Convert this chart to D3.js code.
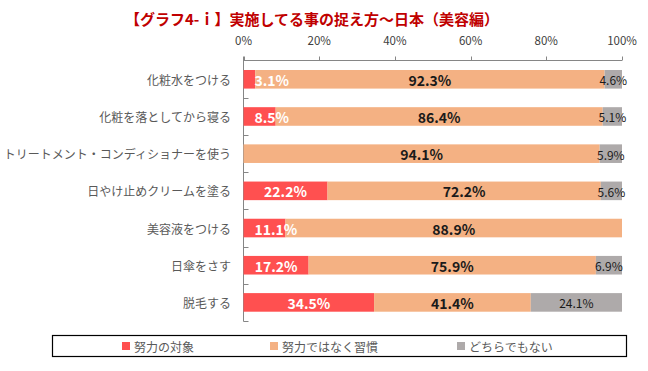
<!DOCTYPE html>
<html><head><meta charset="utf-8">
<script src="https://cdn.jsdelivr.net/npm/d3@7"></script>
<style>body{margin:0;background:#fff;} svg{display:block;}</style>
</head><body>
<svg id="c" width="648" height="371"></svg>
<script>
const title = "【グラフ4-ｉ】実施してる事の捉え方～日本（美容編）";
const categories = ["化粧水をつける","化粧を落としてから寝る","トリートメント・コンディショナーを使う","日やけ止めクリームを塗る","美容液をつける","日傘をさす","脱毛する"];
const seriesNames = ["努力の対象","努力ではなく習慣","どちらでもない"];
const effort = [3.1, 8.5, 0, 22.2, 11.1, 17.2, 34.5];
const habit = [92.3, 86.4, 94.1, 72.2, 88.9, 75.9, 41.4];
const neither = [4.6, 5.1, 5.9, 5.6, 0, 6.9, 24.1];
const tickValues = [0, 20, 40, 60, 80, 100];
const colors = ["#FF5050", "#F4B183", "#AEAAAA"];

const svg = d3.select("#c");
const font = "'Noto Sans CJK JP','Noto Sans',sans-serif";
const x = d3.scaleLinear().domain([0, 100]).range([243.5, 622]);
const y = d3.scaleBand().domain(categories).range([60.7, 321]).paddingInner(0.5).paddingOuter(0.25);

svg.append("text").attr("x", 312).attr("y", 18).attr("text-anchor", "middle")
  .attr("dominant-baseline", "central").attr("font-family", font).attr("font-weight", "bold")
  .attr("font-size", 15).attr("fill", "#C00000").text(title);

// top axis
const axColor = "#868686";
svg.append("line").attr("x1", x(0)).attr("x2", x(100)).attr("y1", 60.5).attr("y2", 60.5).attr("stroke", axColor);
tickValues.forEach(v => {
  svg.append("line").attr("x1", Math.round(x(v)) + 0.5).attr("x2", Math.round(x(v)) + 0.5)
    .attr("y1", 56.5).attr("y2", 60.5).attr("stroke", axColor);
  svg.append("text").attr("x", x(v)).attr("y", 40).attr("text-anchor", "middle")
    .attr("dominant-baseline", "central").attr("font-family", font).attr("font-size", 11.5)
    .attr("fill", "#404040").text(v + "%");
});
// left axis
svg.append("line").attr("x1", 243.5).attr("x2", 243.5).attr("y1", 56.5).attr("y2", 321.5).attr("stroke", axColor);
const step = y.step();
for (let k = 1; k <= categories.length; k++) {
  const yy = Math.round(60.7 + k * step) + 0.5;
  svg.append("line").attr("x1", 243.5).attr("x2", 248.5).attr("y1", yy).attr("y2", yy).attr("stroke", axColor);
}

// category labels
categories.forEach(c => {
  svg.append("text").attr("x", 231).attr("y", y(c) + y.bandwidth() / 2).attr("text-anchor", "end")
    .attr("dominant-baseline", "central").attr("font-family", font).attr("font-size", 12)
    .attr("fill", "#595959").text(c);
});

const series = [effort, habit, neither];
const barLayer = svg.append("g");
const labelLayer = svg.append("g");
categories.forEach((c, i) => {
  let acc = 0;
  series.forEach((s, j) => {
    const v = s[i];
    const x0 = x(acc), x1 = x(acc + v);
    acc += v;
    if (v <= 0) return;
    barLayer.append("rect").attr("x", x0).attr("y", y(c)).attr("width", x1 - x0)
      .attr("height", y.bandwidth()).attr("fill", colors[j]);
    const t = labelLayer.append("text").attr("y", y(c) + y.bandwidth() / 2 + 0.5)
      .attr("dominant-baseline", "central").attr("text-anchor", "middle")
      .attr("font-family", font)
      .attr("font-size", j === 2 ? 12 : 14)
      .attr("font-weight", j === 2 ? "normal" : "bold")
      .attr("fill", j === 0 ? "#FFFFFF" : "#1a1a1a")
      .text(v.toFixed(1) + "%");
    let cx = (x0 + x1) / 2;
    if (j === 0) {
      const tw = t.node().getComputedTextLength();
      cx = Math.max(cx, x0 + tw / 2 + 11);
    }
    if (j === 2) cx = Math.min(cx, 622 - t.node().getComputedTextLength() / 2 + 6);
    t.attr("x", cx);
  });
});

// legend
svg.append("rect").attr("x", 52.5).attr("y", 335.5).attr("width", 574).attr("height", 21)
  .attr("fill", "none").attr("stroke", "#000").attr("stroke-width", 1.2);
const legX = [122, 270, 457];
seriesNames.forEach((n, j) => {
  svg.append("rect").attr("x", legX[j]).attr("y", 342).attr("width", 8).attr("height", 8).attr("fill", colors[j]);
  svg.append("text").attr("x", legX[j] + 12).attr("y", 346).attr("dominant-baseline", "central")
    .attr("font-family", font).attr("font-size", 12).attr("fill", "#595959").text(n);
});
</script>
</body></html>
